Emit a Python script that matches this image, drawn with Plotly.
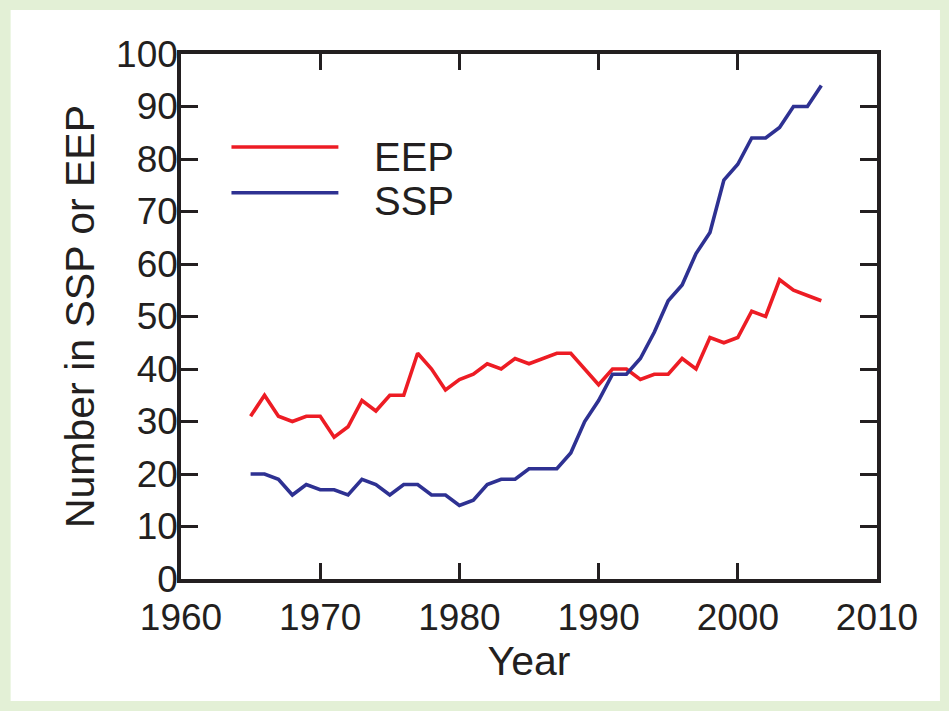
import plotly.graph_objects as go

years = list(range(1965, 2007))
eep = [31, 35, 31, 30, 31, 31, 27, 29, 34, 32, 35, 35, 43, 40, 36, 38, 39, 41, 40, 42,
       41, 42, 43, 43, 40, 37, 40, 40, 38, 39, 39, 42, 40, 46, 45, 46, 51, 50, 57, 55, 54, 53]
ssp = [20, 20, 19, 16, 18, 17, 17, 16, 19, 18, 16, 18, 18, 16, 16, 14, 15, 18, 19, 19,
       21, 21, 21, 24, 30, 34, 39, 39, 42, 47, 53, 56, 62, 66, 76, 79, 84, 84, 86, 90, 90, 94]
x_ticks = [1960, 1970, 1980, 1990, 2000, 2010]
y_ticks = [0, 10, 20, 30, 40, 50, 60, 70, 80, 90, 100]
series_names = ["EEP", "SSP"]
series_colors = ["#ed1c24", "#2e3192"]

W, H = 949, 711
L, R, T, B = 180.5, 877, 54, 579
pw, ph = R - L, B - T
green = "#e3f0d6"

def px(x):
    return (x - L) / pw

def py(y):
    return (B - y) / ph

fig = go.Figure()
for name, vals, col in zip(series_names, [eep, ssp], series_colors):
    fig.add_trace(go.Scatter(x=years, y=vals, mode="lines", name=name,
                             line=dict(color=col, width=3.6), showlegend=False))

ink = "#231f20"
tickfont = dict(family="Liberation Sans Narrow, Arial Narrow, Liberation Sans, Arial, sans-serif",
                size=37, color=ink)
titlefont = dict(family="Liberation Sans, Arial, Helvetica, sans-serif", size=41, color=ink)

fig.update_xaxes(range=[1960, 2010], tickvals=x_ticks, ticktext=[str(v) for v in x_ticks],
                 ticks="inside", ticklen=16, tickwidth=3, tickcolor=ink,
                 showline=True, linewidth=3.5, linecolor=ink, mirror="ticks",
                 showgrid=False, zeroline=False, tickfont=tickfont, ticklabelstandoff=3,
                 title=dict(text="Year", font=titlefont, standoff=8))
fig.update_yaxes(range=[0, 100], tickvals=y_ticks, ticktext=[str(v) for v in y_ticks],
                 ticks="inside", ticklen=17, tickwidth=3, tickcolor=ink,
                 showline=True, linewidth=3.5, linecolor=ink, mirror="ticks",
                 showgrid=False, zeroline=False, tickfont=tickfont, ticklabelstandoff=-8,
                 title=dict(text="Number in SSP or EEP", font=titlefont, standoff=10))

shapes = [
    dict(type="rect", xref="paper", yref="paper", x0=px(10), x1=px(940), y0=py(701), y1=py(10),
         fillcolor="white", line=dict(width=0), layer="below"),
]
leg_y = [147, 192.7]
text_y = [157, 201]
annotations = []
for name, col, ly, ty in zip(series_names, series_colors, leg_y, text_y):
    shapes.append(dict(type="line", xref="paper", yref="paper", x0=px(231), x1=px(338),
                       y0=py(ly), y1=py(ly), line=dict(color=col, width=3.6)))
    annotations.append(dict(xref="paper", yref="paper", x=px(372), y=py(ty), text=name,
                            showarrow=False, xanchor="left", yanchor="middle",
                            font=dict(family="Liberation Sans, Arial, sans-serif", size=40, color=ink)))

fig.update_layout(width=W, height=H, margin=dict(l=L, r=W - R, t=T, b=H - B),
                  paper_bgcolor=green, plot_bgcolor="white",
                  shapes=shapes, annotations=annotations)

fig.write_html("out.html", config={"displayModeBar": False},
               post_script="document.body.style.margin='0';document.body.style.background='%s';" % green)
